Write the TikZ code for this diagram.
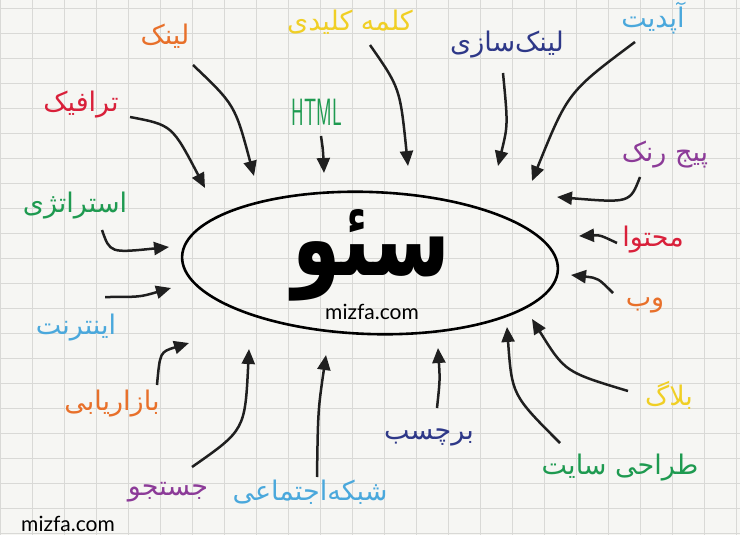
\documentclass[tikz,border=0pt]{standalone}
\usepackage{fontspec}
\setmainfont{Lato}
\newfontfamily\arabicfont[Script=Arabic]{DejaVu Sans}
\TeXXeTstate=1
\usetikzlibrary{arrows.meta}

\definecolor{paper}{HTML}{F6F6F3}
\definecolor{gridgray}{HTML}{D9D9D6}
\definecolor{penorange}{HTML}{E8702A}
\definecolor{penyellow}{HTML}{F0CF25}
\definecolor{pennavy}{HTML}{2E3888}
\definecolor{penblue}{HTML}{4AA8DC}
\definecolor{penred}{HTML}{D9203A}
\definecolor{pengreen}{HTML}{1E9A50}
\definecolor{penpurple}{HTML}{8C3B98}

\tikzset{
  word/.style={font=\arabicfont\fontsize{27}{31}\selectfont, inner sep=0pt},
  feed/.style={line width=2.5pt, draw=black!88, -{Triangle[length=15pt,width=13pt]}},
  gridline/.style={draw=gridgray, line width=0.8pt},
}

\begin{document}
\begin{tikzpicture}[x=1pt, y=-1pt]
\useasboundingbox (0,0) rectangle (740,535);
\fill[paper] (0,0) rectangle (740,535);

%paper grid
\foreach \gx in {0,32,...,736} \draw[gridline] (\gx,0) -- (\gx,535);
\foreach \gy in {8,33,...,533} \draw[gridline] (0,\gy) -- (740,\gy);

%centre
\draw[line width=2.6pt, rotate around={-2:(370,263)}] (370,263) ellipse (188 and 71);
\node[font=\arabicfont\bfseries\fontsize{78}{84}\selectfont, yscale=1.35, inner sep=0pt] (seo) at (371,255) {\beginR سئو\endR};
\node[font=\fontsize{21}{24}\selectfont, inner sep=0pt, anchor=north] (site) at (372,304) {mizfa.com};
\node[font=\fontsize{21}{24}\selectfont, inner sep=0pt] (corner) at (68,524) {mizfa.com};

%top labels
\node[word, text=penorange] (link) at (165,36) {\beginR لینک\endR};
\node[word, text=penyellow] (keyword) at (350,22) {\beginR کلمه کلیدی\endR};
\node[word, text=pennavy] (linkbuild) at (507,45) {\beginR لینک‌سازی\endR};
\node[word, text=penblue] (update) at (653,18) {\beginR آپدیت\endR};
\node[word, text=penred] (traffic) at (81,105) {\beginR ترافیک\endR};
\node[font=\sffamily\fontsize{38}{40}\selectfont, text=pengreen, xscale=0.5, inner sep=0pt] (html) at (317,112) {HTML};
\node[word, text=penpurple] (pagerank) at (665,155) {\beginR پیج رنک\endR};

%side labels
\node[word, text=pengreen] (strategy) at (75,206) {\beginR استراتژی\endR};
\node[word, text=penblue] (internet) at (76,328) {\beginR اینترنت\endR};
\node[word, text=penred] (content) at (653,240) {\beginR محتوا\endR};
\node[word, text=penorange] (web) at (645,305) {\beginR وب\endR};

%bottom labels
\node[word, text=penorange] (marketing) at (112,404) {\beginR بازاریابی\endR};
\node[word, text=penpurple] (search) at (168,492) {\beginR جستجو\endR};
\node[word, text=penblue] (social) at (310,492) {\beginR شبکه‌اجتماعی\endR};
\node[word, text=pennavy] (tag) at (429,437) {\beginR برچسب\endR};
\node[word, text=penyellow] (blog) at (669,395) {\beginR بلاگ\endR};
\node[word, text=pengreen] (design) at (620,468) {\beginR طراحی سایت\endR};

%arrow ends
\coordinate (traffic-s) at (130,117);   \coordinate (traffic-e) at (205,188);
\coordinate (link-s) at (193,65);       \coordinate (link-e) at (254,176);
\coordinate (html-s) at (321,136);      \coordinate (html-e) at (324,173);
\coordinate (keyword-s) at (370,45);    \coordinate (keyword-e) at (408,166);
\coordinate (linkbuild-s) at (503,73);  \coordinate (linkbuild-e) at (498,166);
\coordinate (update-s) at (635,42);     \coordinate (update-e) at (532,181);
\coordinate (pagerank-s) at (640,177);  \coordinate (pagerank-e) at (557,197);
\coordinate (content-s) at (617,243);   \coordinate (content-e) at (579,236);
\coordinate (web-s) at (613,293);       \coordinate (web-e) at (571,275);
\coordinate (blog-s) at (628,391);      \coordinate (blog-e) at (532,319);
\coordinate (design-s) at (560,443);    \coordinate (design-e) at (507,327);
\coordinate (tag-s) at (437,408);       \coordinate (tag-e) at (438,348);
\coordinate (social-s) at (317,477);    \coordinate (social-e) at (326,355);
\coordinate (search-s) at (192,467);    \coordinate (search-e) at (249,349);
\coordinate (marketing-s) at (157,385); \coordinate (marketing-e) at (189,343);
\coordinate (strategy-s) at (102,230);  \coordinate (strategy-e) at (169,247);
\coordinate (internet-s) at (105,297);  \coordinate (internet-e) at (171,288);

%arrows
\draw[feed] (traffic-s) .. controls (172,125) .. (traffic-e);
\draw[feed] (link-s) .. controls (235,105) .. (link-e);
\draw[feed] (html-s) .. controls (323,150) .. (html-e);
\draw[feed] (keyword-s) .. controls (400,88) .. (keyword-e);
\draw[feed] (linkbuild-s) .. controls (508,125) .. (linkbuild-e);
\draw[feed] (update-s) .. controls (568,92) .. (update-e);
\draw[feed] (pagerank-s) .. controls (630,203) .. (pagerank-e);
\draw[feed] (content-s) .. controls (600,235) .. (content-e);
\draw[feed] (web-s) .. controls (598,278) .. (web-e);
\draw[feed] (blog-s) .. controls (565,372) .. (blog-e);
\draw[feed] (design-s) .. controls (512,395) .. (design-e);
\draw[feed] (tag-s) .. controls (440,380) .. (tag-e);
\draw[feed] (social-s) .. controls (318,410) .. (social-e);
\draw[feed] (search-s) .. controls (245,430) .. (search-e);
\draw[feed] (marketing-s) .. controls (160,352) .. (marketing-e);
\draw[feed] (strategy-s) .. controls (110,253) .. (strategy-e);
\draw[feed] (internet-s) .. controls (140,297) .. (internet-e);
\end{tikzpicture}
\end{document}
